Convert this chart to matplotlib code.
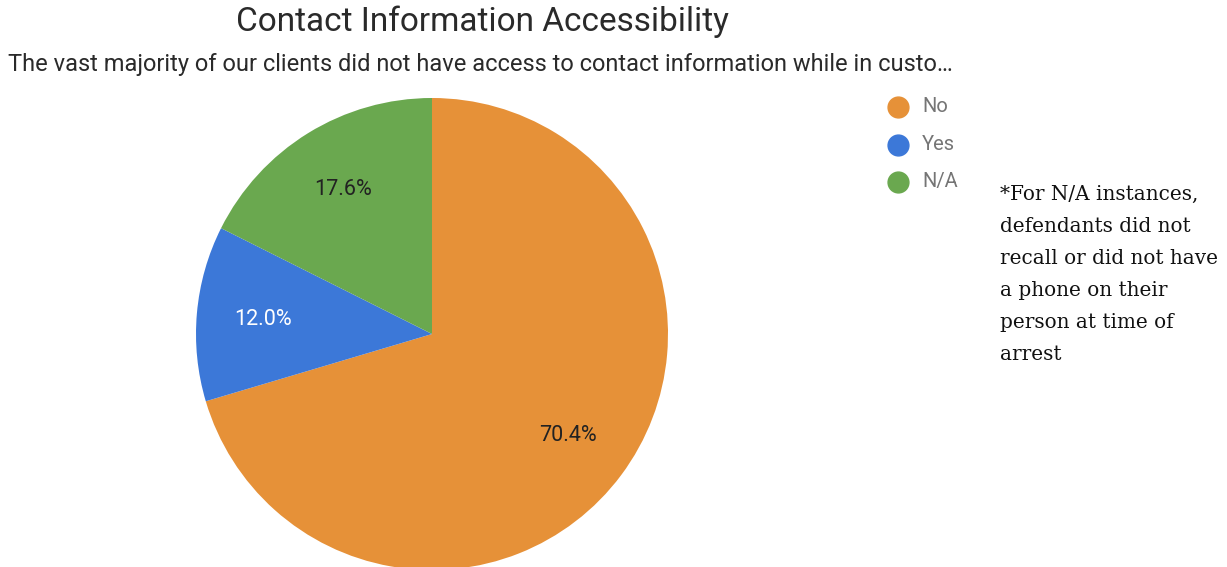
import matplotlib.pyplot as plt

labels = ["No", "Yes", "N/A"]
shares = [70.4, 12.0, 17.6]
colors = ["#E69138", "#3C78D8", "#6AA84F"]
label_colors = ["#222222", "#FFFFFF", "#222222"]

title = "Contact Information Accessibility"
subtitle = "The vast majority of our clients did not have access to contact information while in custo\u2026"
note = ("*For N/A instances,\ndefendants did not\nrecall or did not have\n"
        "a phone on their\nperson at time of\narrest")

W, H = 1227, 567
fig = plt.figure(figsize=(W / 100, H / 100), dpi=100)
fig.patch.set_facecolor("white")

# pie area in pixel terms: centre (432, 334), radius 236
cx, cy, r = 432, 334, 236
ax = fig.add_axes([(cx - r) / W, (H - cy - r) / H, 2 * r / W, 2 * r / H])
wedges, texts, autotexts = ax.pie(
    shares, colors=colors, startangle=90, counterclock=False,
    autopct="%.1f%%", pctdistance=0.72, radius=1.0,
    textprops=dict(fontsize=15.5, family="Roboto"),
)
for t, c in zip(autotexts, label_colors):
    t.set_color(c)
ax.set_xlim(-1, 1)
ax.set_ylim(-1, 1)
ax.set_aspect("equal")
ax.axis("off")

fig.text(482 / W, 1 - 22 / H, title, ha="center", va="center",
         fontsize=24, family="Roboto", color="#2a2a2a")
fig.text(480 / W, 1 - 64 / H, subtitle, ha="center", va="center",
         fontsize=17, family="Roboto", color="#2a2a2a")

# legend drawn by hand: dots and grey labels
for i, (lab, col) in enumerate(zip(labels, colors)):
    y = 107 + 37.5 * i
    fig.add_artist(plt.Line2D([898 / W], [1 - y / H], marker="o", markersize=15,
                              color=col, linestyle="none"))
    fig.text(922 / W, 1 - y / H, lab, ha="left", va="center",
             fontsize=14.5, family="Roboto", color="#757575")

fig.text(1000 / W, 1 - 185 / H, note, ha="left", va="top",
         fontsize=14.4, family="DejaVu Serif", color="#111111", linespacing=1.87)

fig.savefig("out.png", dpi=100)
